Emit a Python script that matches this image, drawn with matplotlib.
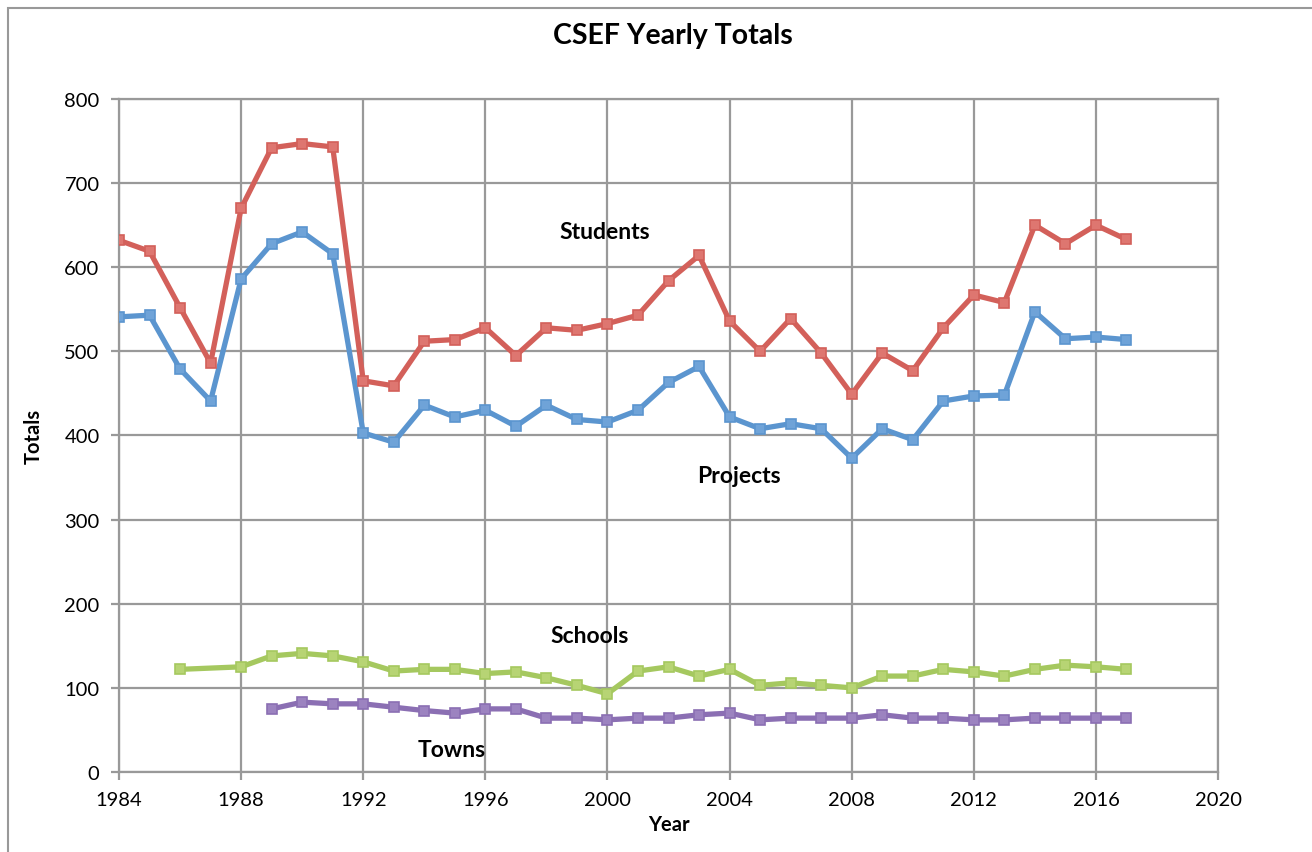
import matplotlib
matplotlib.use("Agg")
import matplotlib.pyplot as plt
from matplotlib.patches import Rectangle

plt.rcParams['font.family'] = ['Lato', 'DejaVu Sans']

years = list(range(1984, 2018))

students = [632, 619, 552, 486, 670, 742, 747, 743, 465, 459, 512, 514, 528, 495,
            528, 525, 533, 543, 584, 614, 536, 500, 539, 498, 449, 498, 477, 528,
            567, 558, 650, 628, 650, 633]
projects = [541, 543, 479, 441, 586, 628, 642, 616, 403, 392, 436, 422, 430, 411,
            436, 419, 416, 430, 463, 482, 422, 408, 414, 408, 373, 408, 395, 441,
            447, 448, 547, 515, 517, 514]

school_years = [1986] + list(range(1988, 2018))
schools = [122, 125, 138, 141, 138, 131, 120, 122, 122, 117, 119, 112, 103, 93,
           120, 125, 114, 122, 103, 106, 103, 100, 114, 114, 122, 119, 114, 122,
           127, 125, 122]

town_years = list(range(1989, 2018))
towns = [75, 83, 81, 81, 77, 73, 70, 75, 75, 64, 64, 62, 64, 64, 68, 70, 62, 64,
         64, 64, 68, 64, 64, 62, 62, 64, 64, 64, 64]

series = [
    (years, projects, '#5B95CF', '#6FA3D8'),
    (years, students, '#D3605A', '#DE7670'),
    (school_years, schools, '#A5C85F', '#B7D474'),
    (town_years, towns, '#8B6FB3', '#9C83C0'),
]

fig = plt.figure(figsize=(13.12, 8.53), dpi=100)
ax = fig.add_axes([0.0907, 0.0938, 0.8377, 0.789])

for x, y, col, face in series:
    ax.plot(x, y, color=col, linewidth=3.8, marker='s', markersize=7,
            markerfacecolor=face, markeredgecolor=col, markeredgewidth=1.2,
            zorder=3)

ax.set_xlim(1984, 2020)
ax.set_ylim(0, 800)
ax.set_xticks(range(1984, 2021, 4))
ax.set_yticks(range(0, 801, 100))
ax.grid(True, color='#999999', linewidth=1.6)
ax.set_axisbelow(True)
for s in ax.spines.values():
    s.set_color('#999999')
    s.set_linewidth(1.6)
ax.tick_params(axis='both', direction='out', length=6, width=1.6, color='#999999',
               labelsize=14.5, pad=8)

ax.set_xlabel('Year', fontsize=14.5, fontweight='bold', labelpad=4)
ax.set_ylabel('Totals', fontsize=14.5, fontweight='bold', labelpad=15)
fig.text(0.513, 0.958, 'CSEF Yearly Totals', ha='center', va='center',
         fontsize=20.5, fontweight='bold')

ax.text(1999.9, 643, 'Students', ha='center', va='center', fontsize=16.5, fontweight='bold')
ax.text(2004.3, 352, 'Projects', ha='center', va='center', fontsize=16.5, fontweight='bold')
ax.text(1999.4, 162, 'Schools', ha='center', va='center', fontsize=16.5, fontweight='bold')
ax.text(1994.9, 27, 'Towns', ha='center', va='center', fontsize=16.5, fontweight='bold')

fig.patches.append(Rectangle((0.006, -0.01), 1.2, 1.0, transform=fig.transFigure,
                             fill=False, edgecolor='#999999', linewidth=1.5))

fig.savefig('out.png', dpi=100)
